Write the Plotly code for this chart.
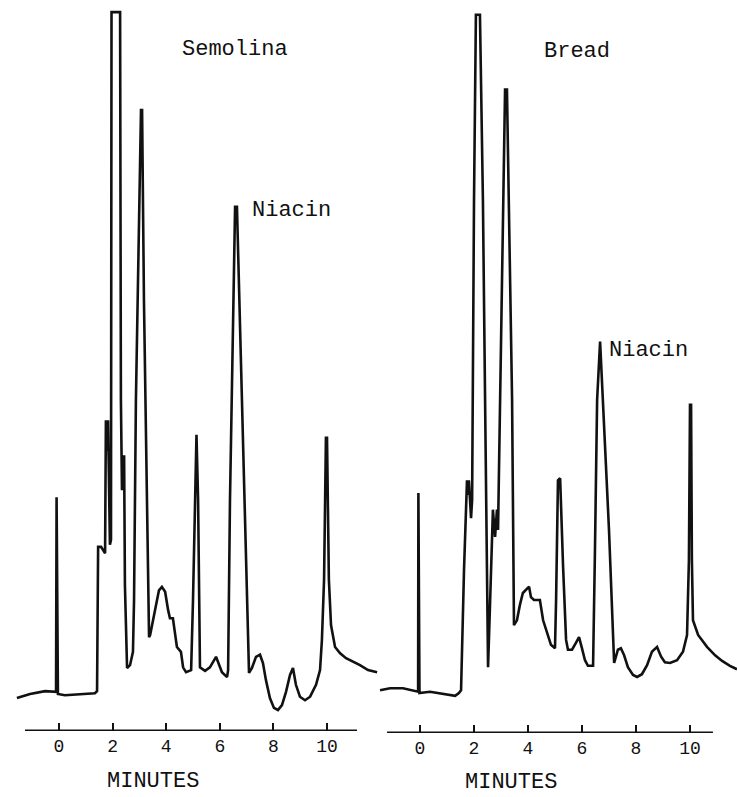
import plotly.graph_objects as go

# Semolina chromatogram: time (min) and detector response (arbitrary units)
semolina_time = [-1.57, -1.08, -0.52, -0.26, -0.11, -0.09, -0.04, 0.22, 0.78, 1.34, 1.42,
                 1.46, 1.57, 1.72, 1.75, 1.79, 1.83, 1.90, 1.94, 1.96, 2.28, 2.31, 2.35,
                 2.43, 2.46, 2.54, 2.65, 2.76, 2.80, 2.87, 3.06, 3.10, 3.17, 3.36,
                 3.40, 3.58, 3.73, 3.84, 3.96, 4.07, 4.14, 4.25, 4.33, 4.40, 4.55, 4.63,
                 4.74, 4.93, 5.00, 5.07, 5.13, 5.19, 5.26, 5.45, 5.63, 5.86, 5.97, 6.08,
                 6.27, 6.31, 6.38, 6.57, 6.64, 6.83, 7.09, 7.20, 7.35, 7.50, 7.61, 7.72,
                 7.87, 8.02, 8.17, 8.32, 8.47, 8.62, 8.73, 8.84, 8.99, 9.18, 9.37, 9.59,
                 9.74, 9.81, 9.89, 9.96, 10.00, 10.07, 10.15, 10.30, 10.49, 10.71, 10.97,
                 11.23, 11.53, 11.87]
semolina_resp = [4.7, 5.3, 5.7, 5.6, 5.6, 33.4, 5.3, 5.1, 5.3, 5.4, 5.7,
                 26.3, 26.3, 25.4, 44.4, 40.0, 44.4, 26.6, 27.3, 102.7, 102.7, 47.3, 34.4,
                 39.4, 20.9, 9.0, 9.4, 11.3, 18.7, 47.3, 88.7, 88.7, 61.6, 13.4,
                 13.7, 17.3, 20.1, 20.6, 19.9, 17.3, 16.1, 16.1, 13.7, 12.0, 11.3, 9.1,
                 8.4, 8.7, 18.7, 33.0, 42.3, 33.0, 9.1, 8.6, 9.1, 10.6, 9.4, 8.4,
                 7.7, 8.7, 33.0, 74.9, 74.9, 47.3, 8.3, 9.0, 10.6, 10.9, 9.7, 7.3,
                 4.7, 3.3, 3.0, 3.7, 5.6, 8.0, 9.0, 6.6, 4.9, 4.4, 4.9, 6.6,
                 8.7, 13.0, 21.6, 41.9, 41.9, 21.6, 15.1, 12.0, 11.1, 10.4, 9.9,
                 9.4, 8.7, 8.4]

# Bread chromatogram
bread_time = [-1.48, -1.11, -0.63, -0.26, -0.07, -0.06, -0.02, 0.37, 0.74, 1.11, 1.30, 1.44,
              1.52, 1.63, 1.70, 1.74, 1.78, 1.81, 1.89, 1.93, 2.00, 2.07, 2.22, 2.33, 2.41,
              2.52, 2.59, 2.67, 2.70, 2.78, 2.85, 2.89, 2.96, 3.15, 3.22, 3.41, 3.48, 3.59,
              3.70, 3.81, 4.04, 4.11, 4.22, 4.44, 4.56, 4.70, 4.85, 5.00, 5.04, 5.11, 5.19,
              5.30, 5.41, 5.48, 5.63, 5.78, 5.89, 6.00, 6.11, 6.22, 6.41, 6.48, 6.56, 6.67,
              6.78, 7.00, 7.19, 7.33, 7.44, 7.56, 7.70, 7.89, 8.04, 8.22, 8.41, 8.59, 8.78,
              8.93, 9.07, 9.26, 9.52, 9.74, 9.89, 9.96, 10.00, 10.04, 10.07, 10.11, 10.30,
              10.63, 10.93, 11.19, 11.48, 11.74]
bread_resp = [6.1, 6.4, 6.4, 6.1, 5.9, 34.3, 5.7, 5.9, 5.7, 5.4, 5.3, 5.7,
              6.1, 23.3, 33.3, 36.1, 34.0, 36.1, 30.7, 33.3, 76.1, 102.6, 102.6, 76.1, 47.6,
              9.4, 18.0, 27.6, 31.9, 28.0, 31.9, 29.0, 47.6, 91.9, 91.9, 47.6, 15.4, 16.1,
              18.3, 20.0, 20.9, 19.4, 19.0, 19.0, 16.1, 14.3, 12.6, 12.1, 19.0, 36.1, 36.4,
              23.7, 13.3, 11.9, 11.9, 12.9, 13.7, 12.1, 10.4, 9.6, 9.6, 26.1, 47.6, 55.9,
              47.6, 29.0, 10.0, 11.9, 12.1, 11.1, 9.4, 8.3, 8.0, 8.4, 9.7, 11.6, 12.3,
              10.9, 10.1, 10.0, 10.4, 11.6, 14.0, 24.7, 46.9, 46.9, 24.7, 16.1, 14.0,
              12.3, 11.1, 10.3, 9.6, 9.1]

tick_vals = [0, 2, 4, 6, 8, 10]
tick_text = ["0", "2", "4", "6", "8", "10"]
panel_titles = ["Semolina", "Bread"]
peak_label = "Niacin"
niacin_left = (7.13, 74.4)
niacin_right = (6.93, 54.7)

W, H = 737, 797
FONT = "Liberation Mono"
ink = "#111111"

fig = go.Figure()
fig.add_trace(go.Scatter(x=semolina_time, y=semolina_resp, mode="lines",
                         line=dict(color=ink, width=2.6), xaxis="x", yaxis="y",
                         showlegend=False, hoverinfo="skip"))
fig.add_trace(go.Scatter(x=bread_time, y=bread_resp, mode="lines",
                         line=dict(color=ink, width=2.6), xaxis="x2", yaxis="y2",
                         showlegend=False, hoverinfo="skip"))

xcommon = dict(showgrid=False, zeroline=False, showline=False, ticks="inside",
               ticklen=8, tickwidth=2, tickcolor=ink, tickvals=tick_vals,
               ticktext=tick_text, tickfont=dict(family=FONT, size=18, color=ink),
               ticklabelstandoff=2, fixedrange=True)
ycommon = dict(visible=False, showgrid=False, zeroline=False, fixedrange=True)

fig.update_layout(
    width=W, height=H, margin=dict(l=0, r=0, t=0, b=0),
    paper_bgcolor="white", plot_bgcolor="white",
    xaxis=dict(domain=[10 / W, 379 / W], range=[-1.828, 11.940], anchor="y", **xcommon),
    yaxis=dict(domain=[1 - 731 / H, 1], range=[0, 104.43], anchor="x", **ycommon),
    xaxis2=dict(domain=[379 / W, 1], range=[-1.519, 11.741], anchor="y2", **xcommon),
    yaxis2=dict(domain=[1 - 733 / H, 1], range=[0, 104.71], anchor="x2", **ycommon),
)

# horizontal axis bars
fig.add_shape(type="line", xref="x", yref="y", x0=-1.27, x1=11.12, y0=0, y1=0,
              line=dict(color=ink, width=3))
fig.add_shape(type="line", xref="x2", yref="y2", x0=-1.22, x1=10.85, y0=0, y1=0,
              line=dict(color=ink, width=3))

tfont = dict(family=FONT, size=22, color=ink)
fig.add_annotation(x=4.51, y=97.3, xref="x", yref="y", text=panel_titles[0],
                   showarrow=False, xanchor="left", yanchor="middle", font=tfont)
fig.add_annotation(x=4.52, y=97.3, xref="x2", yref="y2", text=panel_titles[1],
                   showarrow=False, xanchor="left", yanchor="middle", font=tfont)
fig.add_annotation(x=niacin_left[0], y=niacin_left[1], xref="x", yref="y", text=peak_label,
                   showarrow=False, xanchor="left", yanchor="middle", font=tfont)
fig.add_annotation(x=niacin_right[0], y=niacin_right[1], xref="x2", yref="y2", text=peak_label,
                   showarrow=False, xanchor="left", yanchor="middle", font=tfont)

fig.add_annotation(x=153 / W, y=1 - 781 / H, xref="paper", yref="paper", text="MINUTES",
                   showarrow=False, xanchor="center", yanchor="middle", font=tfont)
fig.add_annotation(x=511 / W, y=1 - 782 / H, xref="paper", yref="paper", text="MINUTES",
                   showarrow=False, xanchor="center", yanchor="middle", font=tfont)

fig.write_html("out.html", config={"displayModeBar": False},
               post_script="document.body.style.margin='0';document.body.style.overflow='hidden';")
